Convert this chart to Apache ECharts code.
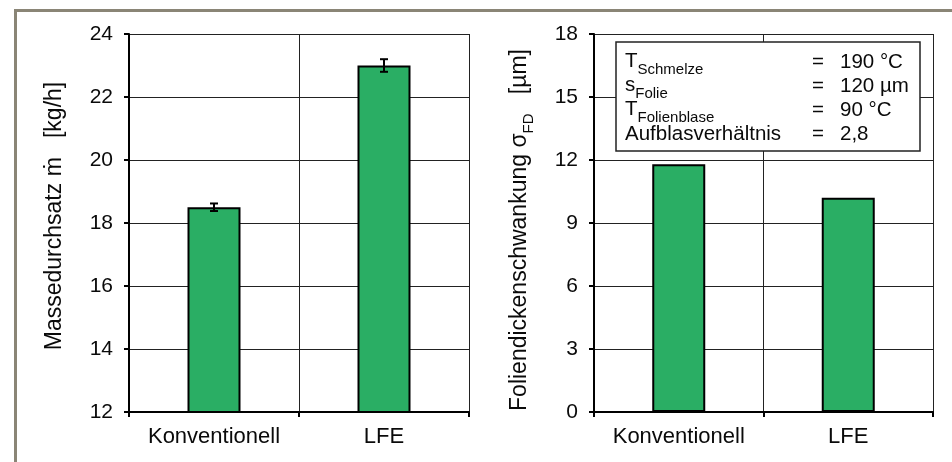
<!DOCTYPE html>
<html>
<head>
<meta charset="utf-8">
<script src="https://cdn.jsdelivr.net/npm/echarts@6/dist/echarts.min.js"></script>
<style>html,body{margin:0;padding:0;background:#fff}#c{width:952px;height:462px}</style>
</head>
<body>
<div id="c"></div>
<script>
const categories = ['Konventionell', 'LFE'];
const massValues = [18.5, 23.0];
const massErrors = [0.12, 0.2];
const thickValues = [11.8, 10.2];
const infoLabels = [['T', 'Schmelze'], ['s', 'Folie'], ['T', 'Folienblase'], ['Aufblasverhältnis', '']];
const infoValues = ['190 °C', '120 µm', '90 °C', '2,8'];

const FONT = 'Liberation Sans, Arial, Helvetica, sans-serif';
const green = '#2aae64';
const ink = '#0a0a0a';

const chart = echarts.init(document.getElementById('c'), null, {renderer: 'canvas'});

function yAxisCfg(gridIndex, min, max, interval, name, pad) {
  return {
    type: 'value', gridIndex, min, max, interval,
    name, nameLocation: 'middle', nameGap: 58, nameRotate: 90,
    nameTextStyle: {
      fontFamily: FONT, fontSize: 23, color: ink, padding: pad,
      rich: {
        m: {fontFamily: FONT, fontSize: 23, color: ink, verticalAlign: 'bottom', padding: [0, 0, 5, 0]},
        s: {fontFamily: FONT, fontSize: 15, color: ink, verticalAlign: 'bottom'}
      }
    },
    axisLine: {show: true, lineStyle: {color: '#000', width: 2}},
    axisTick: {show: true, length: 5, lineStyle: {color: '#000', width: 2}},
    axisLabel: {fontFamily: FONT, fontSize: 21, color: ink, margin: 16},
    splitLine: {show: true, lineStyle: {color: '#222', width: 1}}
  };
}
function xAxisCfg(gridIndex) {
  return {
    type: 'category', gridIndex, data: categories,
    axisLine: {show: true, lineStyle: {color: '#000', width: 2}},
    axisTick: {show: true, interval: 0, length: 5, lineStyle: {color: '#000', width: 2}},
    axisLabel: {interval: 0, fontFamily: FONT, fontSize: 22, color: ink, margin: 14},
    splitLine: {show: true, interval: 0, lineStyle: {color: '#222', width: 1}}
  };
}

const errData = categories.map((c, i) => [i, massValues[i] - massErrors[i], massValues[i] + massErrors[i]]);

const graphics = [
  {type: 'rect', left: 13, top: 8, shape: {x: 0, y: 0, width: 960, height: 470},
   style: {fill: 'none', stroke: '#8a8576', lineWidth: 3}, z: 200, silent: true},
  {type: 'rect', shape: {x: 616, y: 42, width: 304, height: 109},
   style: {fill: '#fff', stroke: '#222', lineWidth: 1.5}, z: 100}
];
const rowY = [62, 86, 110, 134];
infoLabels.forEach((lab, i) => {
  graphics.push({
    type: 'text', x: 625, y: rowY[i] + (lab[1] ? 2 : 0), z: 101,
    style: {
      text: lab[1] ? '{m|' + lab[0] + '}{s|' + lab[1] + '}' : '{m|' + lab[0] + '}',
      verticalAlign: 'middle', align: 'left',
      rich: {
        m: {fontFamily: FONT, fontSize: 20.5, fill: ink, verticalAlign: 'bottom', padding: lab[1] ? [0, 0, 5, 0] : [0, 0, 0, 0]},
        s: {fontFamily: FONT, fontSize: 15, fill: ink, verticalAlign: 'bottom'}
      }
    }
  });
  graphics.push({type: 'text', x: 812, y: rowY[i], z: 101,
    style: {text: '=', fontFamily: FONT, fontSize: 20.5, fill: ink, verticalAlign: 'middle'}});
  graphics.push({type: 'text', x: 840, y: rowY[i], z: 101,
    style: {text: infoValues[i], fontFamily: FONT, fontSize: 20.5, fill: ink, verticalAlign: 'middle'}});
});

chart.setOption({
  animation: false,
  backgroundColor: '#fff',
  grid: [
    {left: 129, right: 483, top: 34, bottom: 50},
    {left: 594, right: 19, top: 34, bottom: 50}
  ],
  xAxis: [xAxisCfg(0), xAxisCfg(1)],
  yAxis: [
    yAxisCfg(0, 12, 24, 2, '{m|Massedurchsatz ṁ   [kg/h]}', [0, 0, 0, 14]),
    yAxisCfg(1, 0, 18, 3, '{m|Foliendickenschwankung σ}{s|FD}{m|   [µm]}', [0, 14, 0, 0])
  ],
  series: [
    {type: 'bar', xAxisIndex: 0, yAxisIndex: 0, data: massValues, barWidth: 53,
     itemStyle: {color: green, borderColor: '#000', borderWidth: 2}, z: 3},
    {type: 'custom', xAxisIndex: 0, yAxisIndex: 0, data: errData, z: 10,
     renderItem: function (params, api) {
       const x = api.value(0);
       const lo = api.coord([x, api.value(1)]);
       const hi = api.coord([x, api.value(2)]);
       const w = 4;
       const st = {stroke: '#000', lineWidth: 2};
       return {type: 'group', children: [
         {type: 'line', shape: {x1: lo[0], y1: lo[1], x2: hi[0], y2: hi[1]}, style: st},
         {type: 'line', shape: {x1: lo[0] - w, y1: lo[1], x2: lo[0] + w, y2: lo[1]}, style: st},
         {type: 'line', shape: {x1: hi[0] - w, y1: hi[1], x2: hi[0] + w, y2: hi[1]}, style: st}
       ]};
     }},
    {type: 'bar', xAxisIndex: 1, yAxisIndex: 1, data: thickValues, barWidth: 53,
     itemStyle: {color: green, borderColor: '#000', borderWidth: 2}, z: 3}
  ],
  graphic: graphics
});
</script>
</body>
</html>
